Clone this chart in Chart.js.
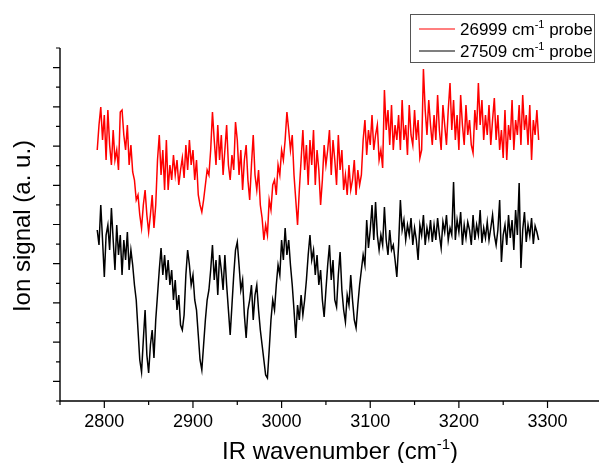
<!DOCTYPE html>
<html>
<head>
<meta charset="utf-8">
<script src="https://cdn.jsdelivr.net/npm/chart.js@4.4.1/dist/chart.umd.min.js"></script>
<style>
  html, body { margin: 0; padding: 0; background: #fff; overflow: hidden; }
  canvas { display: block; }
</style>
</head>
<body>
<canvas id="spectrum" width="624" height="463"></canvas>
<script>
// IR wavenumber grid (cm-1), sampled every 2 cm-1
const xStart = 2792, xEnd = 3290, xStep = 2;
const wavenumber = [];
for (let w = xStart; w <= xEnd; w += xStep) wavenumber.push(w);

const probeNames = ['26999', '27509'];
const probeColors = ['#ff0000', '#000000'];

// ion signal, arbitrary units
const signal26999 = [
  251, 276, 294, 261, 286, 241, 291, 256, 236, 271,
  241, 251, 231, 289, 291, 266, 251, 276, 236, 256,
  229, 221, 201, 206, 186, 173, 196, 211, 186, 169,
  186, 206, 173, 196, 241, 266, 226, 251, 211, 261,
  211, 236, 221, 246, 226, 241, 216, 231, 243, 223,
  256, 231, 261, 236, 251, 221, 241, 206, 196, 189,
  201, 216, 231, 226, 251, 289, 261, 236, 276, 241,
  266, 226, 251, 276, 236, 221, 246, 231, 279, 261,
  226, 251, 211, 241, 256, 221, 201, 236, 266, 226,
  211, 231, 196, 183, 161, 176, 166, 201, 191, 216,
  221, 206, 236, 226, 251, 241, 261, 289, 271, 251,
  266, 226, 201, 176, 211, 241, 271, 231, 256, 216,
  261, 236, 271, 216, 251, 231, 196, 221, 256, 236,
  251, 271, 226, 261, 241, 216, 266, 231, 251, 211,
  226, 206, 236, 211, 221, 241, 206, 231, 216, 226,
  261, 281, 246, 271, 256, 286, 251, 266, 276, 241,
  251, 233, 311, 271, 291, 256, 296, 251, 276, 261,
  286, 251, 301, 261, 276, 246, 296, 266, 256, 291,
  261, 281, 243, 251, 332, 291, 266, 301, 276, 256,
  286, 261, 306, 271, 251, 296, 276, 256, 291, 318,
  271, 301, 261, 286, 251, 306, 276, 256, 296, 266,
  281, 256, 248, 291, 271, 318, 276, 301, 261, 286,
  266, 296, 256, 281, 303, 261, 286, 251, 271, 243,
  291, 241, 276, 261, 301, 251, 281, 266, 296, 256,
  306, 271, 286, 256, 296, 241, 281, 266, 291, 261
];

const signal27509 = [
  171, 156, 196, 161, 124, 166, 176, 151, 193, 161,
  131, 176, 146, 166, 126, 161, 141, 169, 131, 151,
  136, 116, 101, 71, 41, 29, 61, 91, 46, 28,
  56, 71, 43, 81, 106, 131, 153, 126, 146, 121,
  141, 116, 131, 101, 121, 91, 106, 76, 71, 86,
  126, 151, 136, 116, 126, 101, 91, 66, 41, 31,
  56, 81, 101, 111, 131, 156, 121, 141, 106, 146,
  131, 111, 146, 116, 91, 66, 96, 126, 151, 159,
  136, 111, 121, 86, 63, 91, 101, 116, 81, 106,
  116, 91, 71, 56, 41, 26, 23, 51, 81, 101,
  91, 116, 136, 126, 161, 141, 173, 146, 161, 136,
  116, 91, 63, 96, 81, 106, 86, 101, 121, 146,
  166, 141, 151, 126, 146, 116, 131, 101, 84, 111,
  136, 156, 121, 141, 101, 94, 126, 149, 111, 91,
  79, 106, 96, 126, 101, 81, 73, 96, 116, 131,
  146, 136, 181, 153, 171, 196, 161, 199, 166, 151,
  166, 156, 194, 161, 146, 171, 151, 156, 141, 124,
  156, 201, 171, 181, 161, 176, 166, 183, 156, 173,
  161, 141, 176, 166, 186, 156, 173, 163, 181, 159,
  176, 161, 183, 166, 153, 179, 169, 186, 161, 173,
  166, 219, 161, 181, 169, 189, 156, 176, 163, 179,
  171, 156, 186, 161, 176, 166, 191, 158, 173, 163,
  179, 161, 173, 186, 166, 156, 171, 201, 139, 166,
  176, 156, 186, 163, 181, 151, 191, 166, 218, 133,
  171, 189, 159, 176, 165, 183, 157, 175, 169, 161
];

const FONT = "Arial, 'Liberation Sans', sans-serif";

function toPoints(values) {
  return wavenumber.map((w, i) => ({ x: w, y: values[i] }));
}

// text with a "-1" superscript after "cm"
function drawSupText(ctx, parts, x, y, size) {
  // parts: [[text, isSup], ...]
  let cx = x;
  parts.forEach(([txt, sup]) => {
    const fs = sup ? Math.round(size * 0.62) : size;
    ctx.font = fs + 'px ' + FONT;
    ctx.fillText(txt, cx, sup ? y - size * 0.42 : y);
    cx += ctx.measureText(txt).width;
  });
  return cx - x;
}

function measureSup(ctx, parts, size) {
  let w = 0;
  parts.forEach(([txt, sup]) => {
    ctx.font = (sup ? Math.round(size * 0.62) : size) + 'px ' + FONT;
    w += ctx.measureText(txt).width;
  });
  return w;
}

const axisDecor = {
  id: 'axisDecor',
  afterDraw(chart) {
    const { ctx, chartArea, scales } = chart;
    const x = scales.x, y = scales.y;
    ctx.save();
    ctx.strokeStyle = '#000';
    ctx.lineWidth = 1.4;

    // axis lines
    ctx.beginPath();
    ctx.moveTo(chartArea.left, chartArea.top);
    ctx.lineTo(chartArea.left, chartArea.bottom);
    ctx.lineTo(chart.width, chartArea.bottom);
    ctx.stroke();

    // outward ticks
    ctx.lineWidth = 1.2;
    ctx.beginPath();
    x.ticks.forEach(t => {
      const px = x.getPixelForValue(t.value);
      const len = (t.value % 100 === 0) ? 7 : 4;
      ctx.moveTo(px, chartArea.bottom);
      ctx.lineTo(px, chartArea.bottom + len);
    });
    y.ticks.forEach((t, i) => {
      const py = y.getPixelForValue(t.value);
      const len = (i % 2 === 1) ? 7 : 4;
      ctx.moveTo(chartArea.left, py);
      ctx.lineTo(chartArea.left - len, py);
    });
    ctx.stroke();

    // axis titles
    ctx.fillStyle = '#000';
    ctx.textBaseline = 'alphabetic';
    ctx.textAlign = 'left';
    const xTitle = [['IR wavenumber (cm', false], ['-1', true], [')', false]];
    const tw = measureSup(ctx, xTitle, 24);
    const xc = (chartArea.left + chartArea.right) / 2;
    drawSupText(ctx, xTitle, xc - tw / 2 + 3, 459, 24);

    ctx.save();
    ctx.translate(30, 226);
    ctx.rotate(-Math.PI / 2);
    ctx.font = '24px ' + FONT;
    ctx.textAlign = 'center';
    ctx.fillText('Ion signal (a. u.)', 0, 0);
    ctx.restore();

    // legend box
    ctx.strokeStyle = '#555';
    ctx.lineWidth = 1;
    ctx.strokeRect(410.5, 14.5, 184, 48);
    const rows = [35, 57];
    chart.data.datasets.forEach((ds, i) => {
      const ly = rows[i] - 6;
      ctx.strokeStyle = ds.borderColor;
      ctx.lineWidth = 1.2;
      ctx.beginPath();
      ctx.moveTo(419, ly);
      ctx.lineTo(455, ly);
      ctx.stroke();
      ctx.fillStyle = '#000';
      drawSupText(ctx, [[probeNames[i] + ' cm', false], ['-1', true], [' probe', false]], 460, rows[i], 17);
    });
    ctx.restore();
  }
};

const chart = new Chart(document.getElementById('spectrum'), {
  type: 'line',
  data: {
    datasets: [
      {
        label: probeNames[0],
        data: toPoints(signal26999),
        borderColor: probeColors[0],
        borderWidth: 1.5,
        pointRadius: 0,
        tension: 0
      },
      {
        label: probeNames[1],
        data: toPoints(signal27509),
        borderColor: probeColors[1],
        borderWidth: 1.5,
        pointRadius: 0,
        tension: 0
      }
    ]
  },
  options: {
    responsive: false,
    animation: false,
    layout: { padding: { top: 48, right: 1, bottom: 0, left: 0 } },
    plugins: {
      legend: { display: false },
      tooltip: { enabled: false }
    },
    scales: {
      x: {
        type: 'linear',
        min: 2750,
        max: 3375,
        afterFit: s => { s.height = 62; },
        grid: { display: false, drawTicks: false },
        border: { display: false },
        ticks: {
          stepSize: 50,
          autoSkip: false,
          maxRotation: 0,
          padding: 10,
          color: '#000',
          font: { family: FONT, size: 18 },
          callback: v => (v % 100 === 0 && v <= 3300) ? String(v) : ''
        }
      },
      y: {
        type: 'linear',
        min: 0,
        max: 353,
        afterFit: s => { s.width = 60; },
        grid: { display: false, drawTicks: false },
        border: { display: false },
        ticks: { display: false, stepSize: 353 / 18 }
      }
    }
  },
  plugins: [axisDecor]
});
</script>
</body>
</html>
